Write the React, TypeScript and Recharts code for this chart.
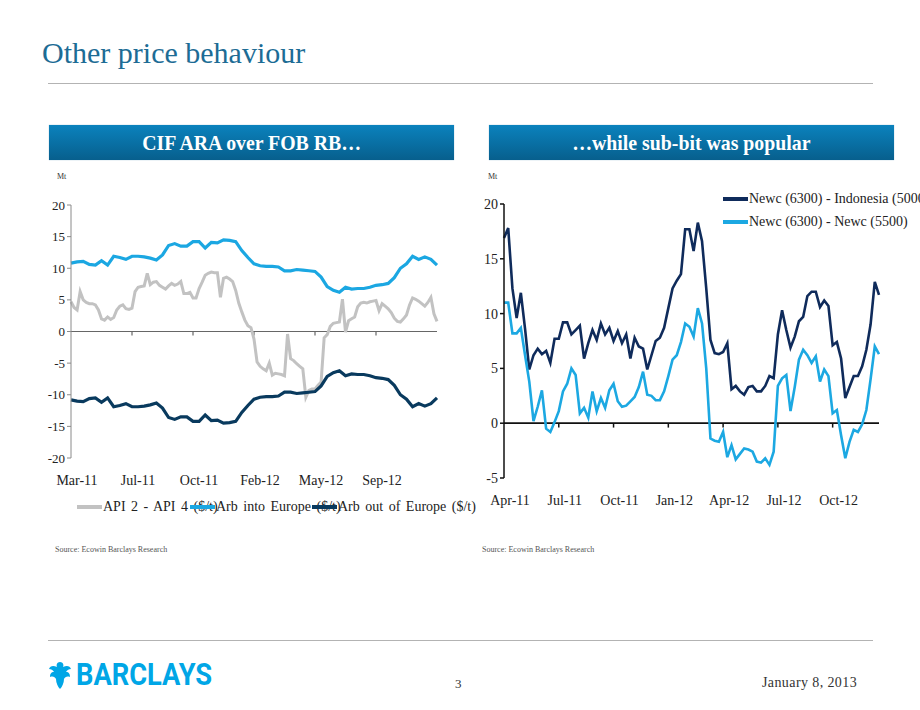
import React from 'react';
import { LineChart, Line, XAxis, YAxis, ReferenceLine, Legend } from 'recharts';

// ---------------------------------------------------------------------------
// Left chart: CIF ARA over FOB RB (daily-ish samples, index 0..120)
// ---------------------------------------------------------------------------
const LEFT_X_LABELS = ['Mar-11', 'Jul-11', 'Oct-11', 'Feb-12', 'May-12', 'Sep-12'];
const LEFT_X_TICKS = [0, 20, 40, 60, 80, 100];
const LEFT_ZERO_MARKS = [20, 40, 60, 80, 100];
const LEFT_Y_TICKS = [-20, -15, -10, -5, 0, 5, 10, 15, 20];

// API 2 - API 4 ($/t), 121 samples
const apiSpread = [
  4.7, 3.8, 3.4, 6.3, 5.0, 4.6, 4.4, 4.4, 4.2, 3.4,
  2.0, 1.8, 2.3, 1.9, 2.2, 3.4, 4.0, 4.2, 3.6, 3.5,
  3.7, 6.3, 7.0, 7.1, 7.2, 9.2, 7.4, 7.8, 7.9, 7.3,
  7.0, 6.7, 7.2, 7.6, 7.3, 7.5, 7.9, 6.0, 6.0, 6.2,
  5.3, 5.3, 6.8, 7.8, 8.9, 9.2, 9.4, 9.3, 9.3, 5.4,
  8.4, 8.6, 8.3, 7.9, 6.5, 4.5, 3.1, 1.8, 0.9, 0.6,
  -1.2, -4.8, -5.5, -5.9, -6.2, -5.0, -6.9, -6.6, -6.7, -6.8,
  -7.0, -0.4, -4.3, -4.6, -5.1, -5.5, -5.9, -10.4, -9.3, -9.1,
  -9.1, -8.5, -8.0, -1.0, -0.5, 0.8, 1.3, 1.4, 1.5, 5.1,
  -0.1, 1.7, 2.0, 2.3, 3.9, 4.5, 4.6, 4.5, 4.7, 4.8,
  4.9, 3.3, 4.4, 4.0, 3.6, 3.0, 2.1, 1.6, 1.5, 2.0,
  2.6, 4.2, 5.3, 5.1, 4.8, 4.4, 4.0, 4.6, 5.4, 2.8,
  1.6,
];

// Arb into Europe ($/t), every second sample (61 values)
const arbInto = [
  10.8, 11.0, 11.1, 10.6, 10.5, 11.2, 10.5, 11.9, 11.7, 11.4,
  11.9, 11.9, 11.8, 11.6, 11.3, 12.1, 13.6, 13.9, 13.5, 13.5,
  14.2, 14.2, 13.2, 14.1, 14.0, 14.5, 14.4, 14.2, 12.8, 11.7,
  10.7, 10.4, 10.3, 10.3, 10.2, 9.6, 9.6, 9.8, 9.7, 9.6,
  9.5, 8.6, 7.1, 6.5, 6.2, 7.0, 6.7, 6.8, 6.8, 7.0,
  7.3, 7.4, 7.6, 8.5, 10.0, 10.7, 11.9, 11.4, 11.8, 11.4,
  10.5,
];

// Arb out of Europe ($/t), every second sample (61 values)
const arbOut = [
  -10.8, -11.0, -11.1, -10.6, -10.5, -11.2, -10.5, -11.9, -11.7, -11.4,
  -11.9, -11.9, -11.8, -11.6, -11.3, -12.1, -13.6, -13.9, -13.5, -13.5,
  -14.2, -14.2, -13.2, -14.1, -14.0, -14.5, -14.4, -14.2, -12.8, -11.7,
  -10.7, -10.4, -10.3, -10.3, -10.2, -9.6, -9.6, -9.8, -9.7, -9.6,
  -9.5, -8.6, -7.1, -6.5, -6.2, -7.0, -6.7, -6.8, -6.8, -7.0,
  -7.3, -7.4, -7.6, -8.5, -10.0, -10.7, -11.9, -11.4, -11.8, -11.4,
  -10.5,
];

// ---------------------------------------------------------------------------
// Right chart: sub-bit spreads (weekly, index 0..89)
// ---------------------------------------------------------------------------
const RIGHT_X_LABELS = ['Apr-11', 'Jul-11', 'Oct-11', 'Jan-12', 'Apr-12', 'Jul-12', 'Oct-12'];
const RIGHT_X_TICKS = [0, 13, 26, 39, 52, 65, 78];
const RIGHT_ZERO_MARKS = [13, 26, 39, 52, 65, 78];
const RIGHT_Y_TICKS = [-5, 0, 5, 10, 15, 20];

// Newc (6300) - Indonesia (5000)
const newcIndo = [
  16.9, 17.8, 12.3, 9.6, 11.9, 8.6, 4.9, 6.2, 6.8, 6.3,
  6.6, 5.5, 7.7, 7.7, 9.2, 9.2, 8.1, 8.5, 8.9, 5.9,
  7.3, 8.5, 7.6, 9.1, 8.1, 8.7, 7.5, 8.4, 7.3, 8.1,
  5.9, 7.8, 7.0, 6.8, 4.9, 6.2, 7.5, 7.8, 8.7, 10.5,
  12.3, 13.0, 13.6, 17.7, 17.7, 15.7, 18.3, 16.6, 12.3, 7.6,
  6.4, 6.3, 6.5, 7.3, 3.1, 3.4, 2.9, 2.6, 3.3, 3.4,
  2.9, 2.9, 3.4, 4.3, 4.1, 8.1, 10.3, 8.5, 6.9, 7.9,
  9.3, 9.7, 11.6, 12.0, 12.0, 10.6, 11.2, 10.7, 7.1, 7.4,
  5.9, 2.3, 3.3, 4.3, 4.3, 5.2, 6.7, 9.0, 12.9, 11.7,
];

// Newc (6300) - Newc (5500)
const newcNewc = [
  11.0, 11.0, 8.2, 8.2, 8.7, 6.2, 3.8, 0.2, 1.5, 3.0,
  -0.5, -0.8, 0.1, 1.1, 2.9, 3.6, 5.0, 4.4, 0.9, 1.4,
  0.5, 2.9, 1.1, 2.3, 1.4, 3.0, 3.6, 2.0, 1.5, 1.6,
  2.0, 2.4, 3.3, 4.7, 2.6, 2.5, 2.1, 2.1, 2.9, 4.3,
  5.8, 6.2, 7.4, 9.1, 8.8, 7.9, 10.5, 9.1, 5.0, -1.4,
  -1.6, -1.7, -0.8, -3.1, -2.0, -3.3, -2.8, -2.3, -2.4, -2.6,
  -3.5, -3.6, -3.2, -3.8, -2.6, 3.4, 4.1, 4.4, 1.1, 3.3,
  5.8, 6.7, 6.2, 5.5, 6.1, 3.8, 4.9, 4.3, 0.9, 1.2,
  -1.1, -3.2, -1.7, -0.6, -0.8, -0.1, 1.2, 4.0, 7.0, 6.3,
];

const SERIF = '"Liberation Serif", "Times New Roman", serif';

const leftData = apiSpread.map((v, t) => ({
  t,
  api: v,
  into: t % 2 === 0 ? arbInto[t / 2] : undefined,
  out: t % 2 === 0 ? arbOut[t / 2] : undefined,
}));

const rightData = newcIndo.map((v, w) => ({ w, indo: v, newc: newcNewc[w] }));

// x labels sit a few px right of their tick, like the Excel original
const makeXTick = (ticks: number[], labels: string[]) => (props: any) => {
  const { x, y, payload } = props;
  return (
    <text x={x + 6} y={y} dy="0.71em" textAnchor="middle" fontFamily={SERIF} fontSize={14} fill="#222">
      {labels[ticks.indexOf(payload.value)]}
    </text>
  );
};

const LEFT_LEGEND_X = [57, 170, 292];

const LeftLegend = ({ payload }: any) => (
  <div style={{ position: 'relative', height: 20, fontFamily: SERIF, fontSize: 14, color: '#222' }}>
    {(payload || []).map((p: any, k: number) => (
      <div
        key={k}
        style={{ position: 'absolute', left: LEFT_LEGEND_X[k], top: 0, height: 20, display: 'flex', alignItems: 'center', whiteSpace: 'nowrap' }}
      >
        <svg width={25} height={6} style={{ position: 'relative', zIndex: 2 }}>
          <line x1={0} y1={3} x2={25} y2={3} stroke={p.color} strokeWidth={4} />
        </svg>
        <span style={{ marginLeft: 1, wordSpacing: 2 }}>{p.value}</span>
      </div>
    ))}
  </div>
);

const RightLegend = ({ payload }: any) => (
  <div style={{ position: 'relative', height: 50, fontFamily: SERIF, fontSize: 14, color: '#222' }}>
    {(payload || []).map((p: any, k: number) => (
      <div
        key={k}
        style={{ position: 'absolute', left: 253, top: 1 + k * 23, height: 20, display: 'flex', alignItems: 'center', whiteSpace: 'nowrap' }}
      >
        <svg width={25} height={6}>
          <line x1={0} y1={3} x2={25} y2={3} stroke={p.color} strokeWidth={4} />
        </svg>
        <span style={{ marginLeft: 1 }}>{p.value}</span>
      </div>
    ))}
  </div>
);

const CifChart = () => (
  <LineChart width={460} height={340} data={leftData} margin={{ top: 15, right: 43, bottom: 42, left: 11 }}>
    <XAxis
      type="number"
      dataKey="t"
      domain={[0, 120]}
      ticks={LEFT_X_TICKS}
      interval={0}
      axisLine={false}
      tickLine={false}
      height={30}
      tickMargin={11}
      tick={makeXTick(LEFT_X_TICKS, LEFT_X_LABELS)}
    />
    <YAxis
      type="number"
      domain={[-20, 20]}
      ticks={LEFT_Y_TICKS}
      interval={0}
      width={40}
      tickSize={4}
      tickMargin={2}
      axisLine={{ stroke: '#8a8a8a' }}
      tickLine={{ stroke: '#8a8a8a' }}
      tick={{ fontFamily: SERIF, fontSize: 13, fill: '#222' }}
    />
    <ReferenceLine y={0} stroke="#666" strokeWidth={1.2} />
    {LEFT_ZERO_MARKS.map((m) => (
      <ReferenceLine key={m} segment={[{ x: m, y: 0 }, { x: m, y: -0.65 }]} stroke="#666" strokeWidth={1.2} />
    ))}
    <Line type="linear" dataKey="api" name="API 2 - API 4 ($/t)" stroke="#c2c2c2" strokeWidth={3} dot={false} isAnimationActive={false} />
    <Line type="linear" dataKey="into" name="Arb into Europe ($/t)" stroke="#1ba7e2" strokeWidth={3.2} dot={false} connectNulls isAnimationActive={false} />
    <Line type="linear" dataKey="out" name="Arb out of Europe ($/t)" stroke="#093a5e" strokeWidth={3.2} dot={false} connectNulls isAnimationActive={false} />
    <Legend
      layout="horizontal"
      verticalAlign="middle"
      align="center"
      content={<LeftLegend />}
      wrapperStyle={{ top: 307, left: 0, width: 460 }}
    />
  </LineChart>
);

const SubBitChart = () => (
  <LineChart width={450} height={330} data={rightData} margin={{ top: 19, right: 41, bottom: 7, left: 6 }}>
    <XAxis
      type="number"
      dataKey="w"
      domain={[0, 89]}
      ticks={RIGHT_X_TICKS}
      interval={0}
      axisLine={false}
      tickLine={false}
      height={30}
      tickMargin={11}
      tick={makeXTick(RIGHT_X_TICKS, RIGHT_X_LABELS)}
    />
    <YAxis
      type="number"
      domain={[-5, 20]}
      ticks={RIGHT_Y_TICKS}
      interval={0}
      width={28}
      tickSize={4}
      tickMargin={2}
      axisLine={{ stroke: '#111', strokeWidth: 1.5 }}
      tickLine={{ stroke: '#111', strokeWidth: 1.5 }}
      tick={{ fontFamily: SERIF, fontSize: 14, fill: '#222' }}
    />
    <ReferenceLine y={0} stroke="#111" strokeWidth={1.8} />
    {RIGHT_ZERO_MARKS.map((m) => (
      <ReferenceLine key={m} segment={[{ x: m, y: 0 }, { x: m, y: -0.4 }]} stroke="#111" strokeWidth={1.5} />
    ))}
    <Line type="linear" dataKey="indo" name="Newc (6300) - Indonesia (5000)" stroke="#0f2b5b" strokeWidth={2.6} dot={false} isAnimationActive={false} />
    <Line type="linear" dataKey="newc" name="Newc (6300) - Newc (5500)" stroke="#1ca8e2" strokeWidth={2.6} dot={false} isAnimationActive={false} />
    <Legend
      layout="horizontal"
      verticalAlign="middle"
      align="center"
      content={<RightLegend />}
      wrapperStyle={{ top: 3, left: 0, width: 450 }}
    />
  </LineChart>
);

const headerBox = (left: number, text: string) => (
  <div
    style={{
      position: 'absolute', left, top: 125, width: 405, height: 35,
      background: 'linear-gradient(#0b82bd, #075f8d)',
      color: '#fff', fontFamily: SERIF, fontWeight: 'bold', fontSize: 22,
      display: 'flex', alignItems: 'center', justifyContent: 'center',
      boxShadow: '0 0 1px #8fb8cf',
    }}
  >
    <span style={{ display: 'inline-block', transform: 'scaleX(0.9)', whiteSpace: 'nowrap' }}>{text}</span>
  </div>
);

const Eagle = () => (
  <svg width={24} height={30} viewBox="0 0 24 30">
    <path
      d="M12 2 C9 2 8 5 9 7 C5 5 2 6 1 9 C3 9 5 10 6 12 C3 12 2 14 2 17 C5 16 7 17 8 19 C8 23 10 27 12 29 C14 27 16 23 16 19 C17 17 19 16 22 17 C22 14 21 12 18 12 C19 10 21 9 23 9 C22 6 19 5 15 7 C16 5 15 2 12 2 Z"
      fill="#00a6e6"
    />
  </svg>
);

export default function App() {
  return (
    <div style={{ position: 'absolute', left: 0, top: 0, width: 920, height: 710, overflow: 'hidden', background: '#fff', fontFamily: SERIF }}>
      <div style={{ position: 'absolute', left: 42, top: 36, fontSize: 30, color: '#1d6c95', whiteSpace: 'nowrap' }}>
        Other price behaviour
      </div>
      <div style={{ position: 'absolute', left: 48, top: 83, width: 825, height: 1, background: '#b3b3b3' }} />

      {headerBox(49, 'CIF ARA over FOB RB…')}
      {headerBox(489, '…while sub-bit was popular')}

      <div style={{ position: 'absolute', left: 57, top: 172, fontSize: 8, color: '#333' }}>Mt</div>
      <div style={{ position: 'absolute', left: 488, top: 172, fontSize: 8, color: '#333' }}>Mt</div>

      <div style={{ position: 'absolute', left: 20, top: 190 }}>
        <CifChart />
      </div>
      <div style={{ position: 'absolute', left: 470, top: 185 }}>
        <SubBitChart />
      </div>

      <div style={{ position: 'absolute', left: 55, top: 545, fontSize: 8, color: '#555' }}>Source: Ecowin Barclays Research</div>
      <div style={{ position: 'absolute', left: 482, top: 545, fontSize: 8, color: '#555' }}>Source: Ecowin Barclays Research</div>

      <div style={{ position: 'absolute', left: 48, top: 640, width: 825, height: 1, background: '#b3b3b3' }} />
      <div style={{ position: 'absolute', left: 48, top: 658, display: 'flex', alignItems: 'center' }}>
        <Eagle />
        <div style={{ marginLeft: 4, width: 140, height: 34, overflow: 'visible' }}>
          <span
            style={{
              display: 'inline-block', fontFamily: "Roboto, 'Liberation Sans', sans-serif", fontWeight: 'bold',
              fontSize: 31, lineHeight: '34px', color: '#00a6e6', transform: 'scaleX(0.88)', transformOrigin: 'left center',
              whiteSpace: 'nowrap',
            }}
          >
            BARCLAYS
          </span>
        </div>
      </div>
      <div style={{ position: 'absolute', left: 455, top: 676, fontSize: 13, color: '#333' }}>3</div>
      <div style={{ position: 'absolute', left: 762, top: 675, fontSize: 14, letterSpacing: 0.4, color: '#333' }}>January 8, 2013</div>
    </div>
  );
}
